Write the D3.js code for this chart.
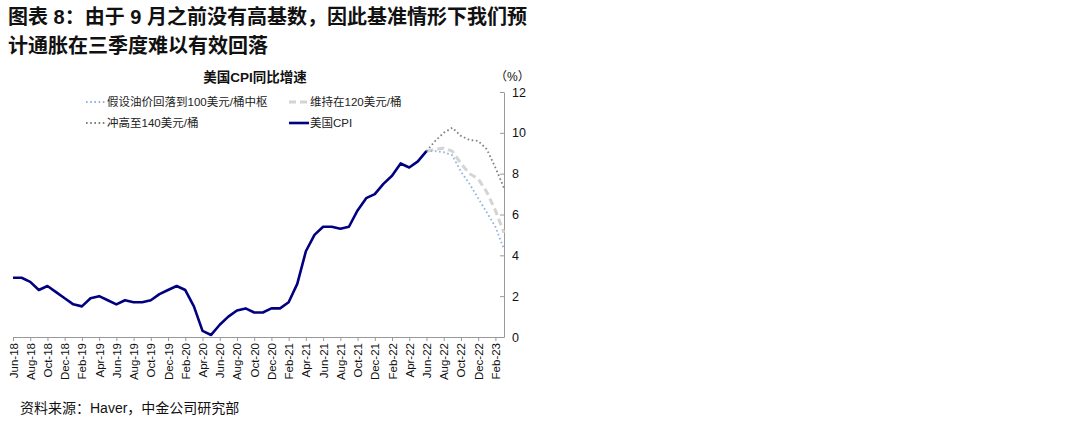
<!DOCTYPE html>
<html><head><meta charset="utf-8">
<script src="https://cdn.jsdelivr.net/npm/d3@7"></script>
<style>
body{margin:0;background:#fff;}
svg{display:block;font-family:"Liberation Sans","Noto Sans CJK SC",Arial,sans-serif;}
</style></head><body>
<svg id="c" width="1080" height="424"></svg>
<script>
const months = ["Jun-18","Jul-18","Aug-18","Sep-18","Oct-18","Nov-18","Dec-18",
"Jan-19","Feb-19","Mar-19","Apr-19","May-19","Jun-19","Jul-19","Aug-19","Sep-19","Oct-19","Nov-19","Dec-19",
"Jan-20","Feb-20","Mar-20","Apr-20","May-20","Jun-20","Jul-20","Aug-20","Sep-20","Oct-20","Nov-20","Dec-20",
"Jan-21","Feb-21","Mar-21","Apr-21","May-21","Jun-21","Jul-21","Aug-21","Sep-21","Oct-21","Nov-21","Dec-21",
"Jan-22","Feb-22","Mar-22","Apr-22","May-22","Jun-22","Jul-22","Aug-22","Sep-22","Oct-22","Nov-22","Dec-22",
"Jan-23","Feb-23","Mar-23"];
const cpiValues = [2.9,2.9,2.7,2.3,2.5,2.2,1.9,
1.6,1.5,1.9,2.0,1.8,1.6,1.8,1.7,1.7,1.8,2.1,2.3,
2.5,2.3,1.5,0.3,0.1,0.6,1.0,1.3,1.4,1.2,1.2,1.4,
1.4,1.7,2.6,4.2,5.0,5.4,5.4,5.3,5.4,6.2,6.8,7.0,
7.5,7.9,8.5,8.3,8.6,9.1];
const projMonths = ["Jun-22","Jul-22","Aug-22","Sep-22","Oct-22","Nov-22","Dec-22","Jan-23","Feb-23","Mar-23"];
const oil100 = [9.1,9.1,9.05,8.9,8.1,7.5,6.8,6.1,5.4,4.3];
const oil120 = [9.1,9.2,9.25,9.1,8.5,8.0,7.75,7.1,6.2,5.1];
const oil140 = [9.1,9.6,10.0,10.25,9.85,9.65,9.6,9.2,8.3,7.3];
const yTicks = [0,2,4,6,8,10,12];
const legendLabels = ["假设油价回落到100美元/桶中枢","维持在120美元/桶","冲高至140美元/桶","美国CPI"];

const FONT = "'Liberation Sans','Noto Sans CJK SC',sans-serif";
const svg = d3.select("#c");
// Title
svg.append("text").attr("x",8).attr("y",24).attr("font-size",20).attr("font-weight",700)
  .attr("font-family",FONT).attr("fill","#111")
  .text("图表 8：由于 9 月之前没有高基数，因此基准情形下我们预");
svg.append("text").attr("x",8).attr("y",53).attr("font-size",20).attr("font-weight",700)
  .attr("font-family",FONT).attr("fill","#111")
  .text("计通胀在三季度难以有效回落");

const x = d3.scalePoint().domain(months).range([13,504]);
const y = d3.scaleLinear().domain([0,12]).range([337,92]);

// chart title
svg.append("text").attr("x",255).attr("y",82).attr("text-anchor","middle")
  .attr("font-size",13.5).attr("font-weight",700).attr("fill","#111")
  .attr("font-family",FONT).text("美国CPI同比增速");
svg.append("text").attr("x",495).attr("y",81).attr("font-size",12).attr("fill","#111")
  .attr("font-family",FONT).text("（%）");

// Y axis right
const yAxis = svg.append("g").attr("transform","translate(504,0)")
  .call(d3.axisRight(y).tickValues(yTicks).tickSize(-4).tickPadding(8).tickSizeOuter(0));
yAxis.select(".domain").attr("stroke","#999");
yAxis.selectAll(".tick line").attr("stroke","#999");
yAxis.selectAll("text").attr("font-size",12.5).attr("fill","#111").attr("font-family",FONT);

// X axis
const xAxis = svg.append("g").attr("transform","translate(0,337)")
  .call(d3.axisBottom(x).tickValues(months.filter((d,i)=>i%2===0)).tickSize(4).tickSizeOuter(0));
xAxis.select(".domain").attr("stroke","#999");
xAxis.selectAll(".tick line").attr("stroke","#999");
xAxis.selectAll("text").attr("font-size",11.5).attr("fill","#111").attr("font-family",FONT)
  .attr("transform","rotate(-90)").attr("text-anchor","end")
  .attr("x",-6).attr("y",0).attr("dy","0.35em");

const line = d3.line().x(d=>x(d[0])).y(d=>y(d[1]));
const mk = (ms,vs)=>ms.map((m,i)=>[m,vs[i]]);

svg.append("path").datum(mk(projMonths,oil120)).attr("d",line).attr("fill","none")
  .attr("stroke","#d4d4d4").attr("stroke-width",3).attr("stroke-dasharray","7,4");
svg.append("path").datum(mk(projMonths,oil100)).attr("d",line).attr("fill","none")
  .attr("stroke","#8db4e2").attr("stroke-width",1.8).attr("stroke-dasharray","1.6,2.6");
svg.append("path").datum(mk(projMonths,oil140)).attr("d",line).attr("fill","none")
  .attr("stroke","#7f7f7f").attr("stroke-width",1.8).attr("stroke-dasharray","1.6,2.6");
svg.append("path").datum(mk(months.slice(0,cpiValues.length),cpiValues)).attr("d",line).attr("fill","none")
  .attr("stroke","#000080").attr("stroke-width",2.6).attr("stroke-linejoin","round");

// Legend
const leg = [
  {x:86,y:102,stroke:"#8db4e2",w:1.8,dash:"1.6,2.6",label:legendLabels[0]},
  {x:289,y:102,stroke:"#d4d4d4",w:3,dash:"7,4",label:legendLabels[1]},
  {x:86,y:123,stroke:"#7f7f7f",w:1.8,dash:"1.6,2.6",label:legendLabels[2]},
  {x:289,y:123,stroke:"#000080",w:2.6,dash:null,label:legendLabels[3]}
];
leg.forEach(l=>{
  svg.append("line").attr("x1",l.x).attr("x2",l.x+20).attr("y1",l.y).attr("y2",l.y)
    .attr("stroke",l.stroke).attr("stroke-width",l.w).attr("stroke-dasharray",l.dash);
  svg.append("text").attr("x",l.x+21).attr("y",l.y).attr("dy","0.36em")
    .attr("font-size",11.5).attr("fill","#222")
    .attr("font-family",FONT).text(l.label);
});

// Source
svg.append("text").attr("x",20).attr("y",413).attr("font-size",14).attr("fill","#111")
  .attr("font-family",FONT).text("资料来源：Haver，中金公司研究部");
</script>
</body></html>
